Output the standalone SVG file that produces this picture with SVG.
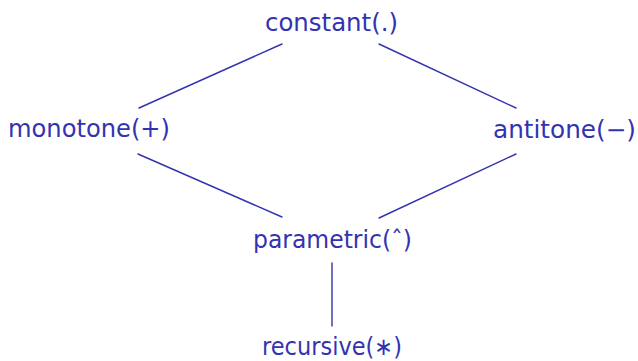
<svg xmlns="http://www.w3.org/2000/svg" width="638" height="361" viewBox="0 0 638 361">
<style>
.lbl{font-family:"DejaVu Sans",sans-serif;font-size:24.4px;fill:#3333B2;text-anchor:middle}
.edge{stroke:#3333B2;stroke-width:1.4;fill:none;stroke-linecap:round}
</style>
<rect width="638" height="361" fill="#ffffff"/>
<g id="connectors">
<line class="edge" x1="139" y1="108" x2="282" y2="44"/>
<line class="edge" x1="379" y1="44" x2="516" y2="108"/>
<line class="edge" x1="138" y1="154" x2="282" y2="217"/>
<line class="edge" x1="379" y1="218" x2="516" y2="154"/>
<line class="edge" x1="332" y1="263" x2="332" y2="326"/>
</g>
<g id="constant"><text class="lbl" x="331.5" y="31" textLength="133" lengthAdjust="spacingAndGlyphs">constant(.)</text></g>
<g id="monotone"><text class="lbl" x="89" y="137" textLength="162" lengthAdjust="spacingAndGlyphs">monotone(+)</text></g>
<g id="antitone"><text class="lbl" x="564.5" y="138" textLength="143" lengthAdjust="spacingAndGlyphs">antitone(−)</text></g>
<g id="parametric"><text class="lbl" x="332.5" y="248" textLength="159" lengthAdjust="spacingAndGlyphs">parametric(ˆ)</text></g>
<g id="recursive"><text class="lbl" x="332" y="355" textLength="140" lengthAdjust="spacingAndGlyphs">recursive(∗)</text></g>
</svg>
